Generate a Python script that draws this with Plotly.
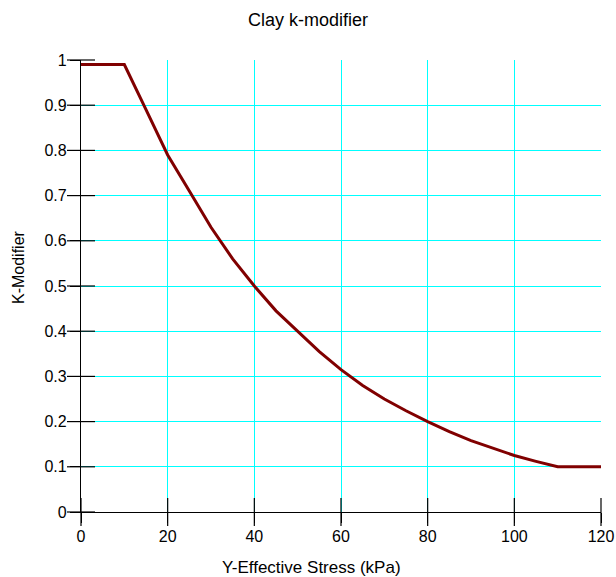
import plotly.graph_objects as go

# Data
stress_kpa = [0, 10, 15, 20, 25, 30, 35, 40, 45, 50, 55, 60, 65, 70, 75, 80,
              85, 90, 95, 100, 105, 110, 120]
k_modifier = [0.99, 0.99, 0.89, 0.79, 0.71, 0.63, 0.56, 0.50, 0.445, 0.40,
              0.355, 0.315, 0.28, 0.25, 0.224, 0.20, 0.178, 0.158, 0.141,
              0.125, 0.112, 0.10, 0.10]

x_ticks = [0, 20, 40, 60, 80, 100, 120]
y_ticks = [0, 0.1, 0.2, 0.3, 0.4, 0.5, 0.6, 0.7, 0.8, 0.9, 1]
y_tick_labels = ["0", "0.1", "0.2", "0.3", "0.4", "0.5", "0.6", "0.7", "0.8", "0.9", "1"]

FONT = "Liberation Sans, Arial, sans-serif"

fig = go.Figure()
# inner halves of the crossing tick marks on the x axis
fig.add_trace(go.Scatter(
    x=x_ticks, y=[0] * len(x_ticks), mode="markers",
    marker=dict(symbol="line-ns-open", size=20, color="black",
                line=dict(width=1.2, color="black")),
    showlegend=False, hoverinfo="skip", cliponaxis=False,
))
# inner halves of the crossing tick marks on the y axis
fig.add_trace(go.Scatter(
    x=[0] * len(y_ticks), y=y_ticks, mode="markers",
    marker=dict(symbol="line-ew-open", size=20, color="black",
                line=dict(width=1.2, color="black")),
    showlegend=False, hoverinfo="skip", cliponaxis=False,
))
fig.add_trace(go.Scatter(
    x=stress_kpa, y=k_modifier, mode="lines",
    line=dict(color="#800000", width=3),
    showlegend=False, cliponaxis=False,
))

common = dict(showline=True, linecolor="black", linewidth=1.2, zeroline=False,
              automargin=False, ticks="outside", ticklen=10, tickwidth=1.2,
              tickcolor="black", tickfont=dict(size=16),
              showgrid=True, gridcolor="#00FFFF", gridwidth=1)

fig.update_layout(
    width=616, height=577,
    margin=dict(l=81, r=15, t=60, b=65, autoexpand=False),
    paper_bgcolor="white", plot_bgcolor="white",
    font=dict(family=FONT, color="black", size=16),
    title=dict(text="Clay k-modifier", x=0.5, xref="container", xanchor="center",
               y=1 - 20 / 577, yref="container", yanchor="middle",
               font=dict(family=FONT, size=18, color="black")),
    xaxis=dict(range=[0, 120], tickvals=x_ticks, **common),
    yaxis=dict(range=[0, 1], tickvals=y_ticks, ticktext=y_tick_labels, **common),
    annotations=[
        dict(text="Y-Effective Stress (kPa)", xref="paper", yref="paper",
             x=0.5, y=0, xanchor="center", yanchor="middle",
             xshift=-30, yshift=-55, showarrow=False,
             font=dict(family=FONT, size=17, color="black")),
        dict(text="K-Modifier", xref="paper", yref="paper",
             x=0, y=0.542, xanchor="center", yanchor="middle", textangle=-90,
             xshift=-63, showarrow=False,
             font=dict(family=FONT, size=16, color="black")),
    ],
)

# remove the default page margin so the figure fills the 616x577 window exactly
fig.write_html(
    "out.html",
    config={"displayModeBar": False},
    post_script="document.body.style.margin='0px';document.body.style.overflow='hidden';",
)
